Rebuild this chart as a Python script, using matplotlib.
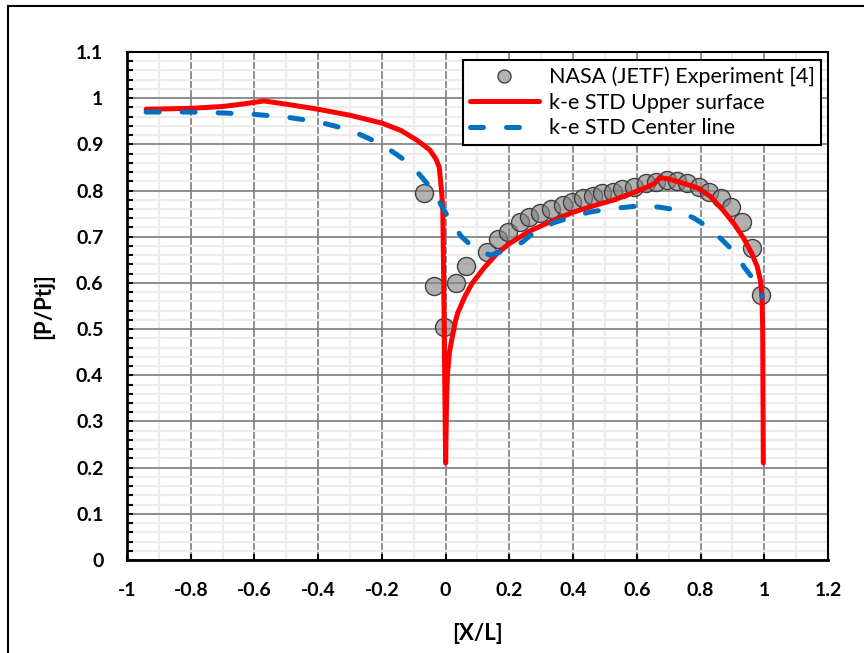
import numpy as np
import matplotlib
matplotlib.use('Agg')
import matplotlib.pyplot as plt
from matplotlib.lines import Line2D
from matplotlib.ticker import FixedLocator

plt.rcParams['font.family'] = ['Lato', 'DejaVu Sans']

# NASA (JETF) experiment
exp_x = [-0.069, -0.038, -0.006, 0.031, 0.063, 0.129, 0.163, 0.197, 0.232, 0.263, 0.295,
         0.332, 0.367, 0.398, 0.430, 0.461, 0.492, 0.524, 0.555, 0.592, 0.630, 0.661,
         0.696, 0.727, 0.759, 0.796, 0.828, 0.865, 0.897, 0.931, 0.962, 0.991]
exp_y = [0.795, 0.593, 0.504, 0.600, 0.636, 0.667, 0.695, 0.710, 0.732, 0.743, 0.752,
         0.759, 0.768, 0.775, 0.783, 0.788, 0.794, 0.797, 0.803, 0.808, 0.816, 0.818,
         0.822, 0.820, 0.816, 0.808, 0.797, 0.783, 0.764, 0.732, 0.675, 0.574]

# k-e STD upper surface
upper_x = [-0.94, -0.8, -0.7, -0.63, -0.57, -0.5, -0.4, -0.3, -0.2, -0.14, -0.09, -0.05,
           -0.03, -0.02, -0.013, -0.009, -0.006, -0.003, 0.0, 0.003, 0.006, 0.012, 0.019,
           0.03, 0.038, 0.06, 0.082, 0.12, 0.16, 0.2, 0.263, 0.33, 0.4, 0.46, 0.524, 0.58,
           0.63, 0.655, 0.672, 0.7, 0.75, 0.79, 0.83, 0.87, 0.905, 0.935, 0.96, 0.978,
           0.988, 0.993, 0.995, 0.996, 0.997]
upper_y = [0.976, 0.978, 0.982, 0.988, 0.994, 0.987, 0.976, 0.963, 0.946, 0.930, 0.909, 0.888,
           0.868, 0.850, 0.800, 0.760, 0.600, 0.400, 0.210, 0.350, 0.405, 0.450, 0.476,
           0.515, 0.535, 0.570, 0.598, 0.632, 0.663, 0.685, 0.712, 0.733, 0.753, 0.766, 0.779, 0.793,
           0.807, 0.815, 0.828, 0.825, 0.815, 0.806, 0.788, 0.758, 0.728, 0.697, 0.665, 0.635,
           0.605, 0.570, 0.500, 0.350, 0.210]

# k-e STD center line
center_x = [-0.94, -0.8, -0.7, -0.6, -0.5, -0.4, -0.3, -0.2, -0.16, -0.11, -0.075, -0.04,
            -0.01, 0.013, 0.05, 0.09, 0.14, 0.19, 0.24, 0.285, 0.342, 0.398, 0.45, 0.51,
            0.567, 0.62, 0.67, 0.727, 0.78, 0.828, 0.868, 0.906, 0.937, 0.975, 0.994]
center_y = [0.970, 0.970, 0.968, 0.965, 0.959, 0.949, 0.931, 0.900, 0.881, 0.857, 0.829, 0.800,
            0.764, 0.736, 0.700, 0.675, 0.660, 0.671, 0.688, 0.714, 0.731, 0.743, 0.753, 0.760,
            0.764, 0.768, 0.764, 0.758, 0.740, 0.719, 0.693, 0.667, 0.634, 0.600, 0.569]

xticks = np.round(np.arange(-1, 1.21, 0.2), 1)
yticks = np.round(np.arange(0, 1.11, 0.1), 1)
xminor = np.round(np.arange(-0.9, 1.2, 0.2), 1)
yminor = [v for v in np.round(np.arange(0, 1.1, 0.02), 2) if round(v * 10) / 10 != v]

fig = plt.figure(figsize=(8.64, 6.53), dpi=100)
ax = fig.add_axes([127 / 864, 93 / 653, 701 / 864, 508 / 653])

ax.plot(exp_x, exp_y, 'o', ms=13, mfc=(0.52, 0.52, 0.52, 0.63), mec='#404040', mew=1.0,
        zorder=3, label='NASA (JETF) Experiment [4]')
ax.plot(upper_x, upper_y, color='#ff0000', lw=3.6, zorder=4, solid_capstyle='round',
        label='k-e STD Upper surface')
ax.plot(center_x, center_y, color='#0070c0', lw=3.6, zorder=5, dashes=(2.6, 4.6),
        dash_capstyle='round', label='k-e STD Center line')

ax.set_xlim(-1, 1.2)
ax.set_ylim(0, 1.1)
ax.xaxis.set_major_locator(FixedLocator(xticks))
ax.xaxis.set_minor_locator(FixedLocator(xminor))
ax.yaxis.set_major_locator(FixedLocator(yticks))
ax.yaxis.set_minor_locator(FixedLocator(yminor))
ax.set_xticklabels(['-1', '-0.8', '-0.6', '-0.4', '-0.2', '0', '0.2', '0.4', '0.6', '0.8', '1', '1.2'])
ax.set_yticklabels(['0', '0.1', '0.2', '0.3', '0.4', '0.5', '0.6', '0.7', '0.8', '0.9', '1', '1.1'])

ax.grid(which='minor', color='#ececec', lw=1.6, zorder=0)
ax.grid(which='major', color='#868686', lw=1.3, zorder=1)
ax.set_axisbelow(True)

ax.tick_params(axis='x', which='major', direction='in', length=4, width=1.5, pad=16,
               labelsize=14)
ax.tick_params(axis='x', which='minor', length=0)
ax.tick_params(axis='y', which='both', direction='in', length=4, width=1.5, pad=17,
               labelsize=14)
for lab in ax.get_xticklabels() + ax.get_yticklabels():
    lab.set_fontweight('bold')

for side in ['left', 'bottom']:
    ax.spines[side].set_linewidth(2.0)
for side in ['top', 'right']:
    ax.spines[side].set_linewidth(1.5)

ax.set_xlabel('[X/L]', fontsize=16, fontweight='bold', labelpad=17)
ax.set_ylabel('[P/Ptj]', fontsize=16, fontweight='bold', labelpad=16)

leg = ax.legend(loc='upper right', bbox_to_anchor=(0.990, 0.984), borderaxespad=0,
                fontsize=15.5, fancybox=False, framealpha=1, edgecolor='black',
                handlelength=3.2, markerscale=0.72, labelspacing=0.26,
                borderpad=0.3, handletextpad=0.45)
leg.get_frame().set_linewidth(1.5)

# outer frame of the chart
fig.add_artist(Line2D([8 / 864, 8 / 864], [0, 1 - 6 / 653], color='black', lw=1.5,
                      transform=fig.transFigure))
fig.add_artist(Line2D([8 / 864, 1], [1 - 6 / 653, 1 - 6 / 653], color='black', lw=1.5,
                      transform=fig.transFigure))

fig.savefig('out.png', dpi=100)
plt.close(fig)
